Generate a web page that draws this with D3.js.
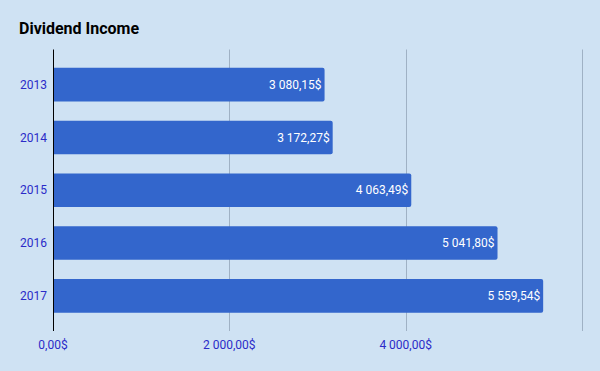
<!DOCTYPE html>
<html>
<head>
<meta charset="utf-8">
<script src="https://cdn.jsdelivr.net/npm/d3@7"></script>
<style>
  html, body { margin: 0; padding: 0; background: #cfe2f3; }
  svg { display: block; font-family: Roboto, "Noto Sans", sans-serif; }
</style>
</head>
<body>
<svg id="chart" width="600" height="371"></svg>
<script>
// chart data
const years = ["2013", "2014", "2015", "2016", "2017"];
const income = [3080.15, 3172.27, 4063.49, 5041.80, 5559.54];
const xTicks = [0, 2000, 4000, 6000];

const width = 600, height = 371;
const margin = { top: 49.5, right: 18, bottom: 40, left: 53 };

const svg = d3.select("#chart");

svg.append("rect")
  .attr("width", width)
  .attr("height", height)
  .attr("fill", "#cfe2f3");

// format like "3 080,15$"
function fmt(v) {
  const parts = v.toFixed(2).split(".");
  const intPart = parts[0].replace(/\B(?=(\d{3})+(?!\d))/g, " ");
  return intPart + "," + parts[1] + "$";
}

const x = d3.scaleLinear()
  .domain([0, 6000])
  .range([margin.left, width - margin.right]);

const y = d3.scaleBand()
  .domain(years)
  .range([margin.top, height - margin.bottom])
  .paddingInner(0.364)
  .paddingOuter(0.347);

// gridlines
svg.append("g")
  .selectAll("line")
  .data(xTicks.filter(d => d > 0))
  .enter()
  .append("line")
  .attr("x1", d => Math.round(x(d)) + 0.5)
  .attr("x2", d => Math.round(x(d)) + 0.5)
  .attr("y1", margin.top)
  .attr("y2", height - margin.bottom)
  .attr("stroke", "#9fb1c4")
  .attr("stroke-width", 1);

// bars (rounded right corners)
function barPath(d, i) {
  const x0 = x(0), x1 = x(d), y0 = y(years[i]), h = y.bandwidth(), r = 2;
  return `M${x0},${y0}H${x1 - r}Q${x1},${y0} ${x1},${y0 + r}` +
    `V${y0 + h - r}Q${x1},${y0 + h} ${x1 - r},${y0 + h}H${x0}Z`;
}

svg.append("g")
  .selectAll("path")
  .data(income)
  .enter()
  .append("path")
  .attr("d", barPath)
  .attr("fill", "#3366cc");

// value labels
svg.append("g")
  .selectAll("text")
  .data(income)
  .enter()
  .append("text")
  .attr("x", d => x(d) - 3)
  .attr("y", (d, i) => y(years[i]) + y.bandwidth() / 2)
  .attr("dy", "0.35em")
  .attr("text-anchor", "end")
  .attr("font-size", 12)
  .attr("fill", "#ffffff")
  .text(d => fmt(d));

// zero axis line
svg.append("line")
  .attr("x1", Math.round(x(0)) + 0.5)
  .attr("x2", Math.round(x(0)) + 0.5)
  .attr("y1", margin.top)
  .attr("y2", height - margin.bottom)
  .attr("stroke", "#000000")
  .attr("stroke-width", 1);

// year labels
svg.append("g")
  .selectAll("text")
  .data(years)
  .enter()
  .append("text")
  .attr("x", margin.left - 6)
  .attr("y", d => y(d) + y.bandwidth() / 2)
  .attr("dy", "0.35em")
  .attr("text-anchor", "end")
  .attr("font-size", 12)
  .attr("fill", "#2b2bc8")
  .text(d => d);

// x tick labels
svg.append("g")
  .selectAll("text")
  .data(xTicks.filter(d => d < 6000))
  .enter()
  .append("text")
  .attr("x", d => x(d))
  .attr("y", 349)
  .attr("text-anchor", "middle")
  .attr("font-size", 12)
  .attr("fill", "#2b2bc8")
  .text(d => fmt(d));

// title
svg.append("text")
  .attr("x", 19)
  .attr("y", 34)
  .attr("font-size", 16)
  .attr("font-weight", "bold")
  .attr("fill", "#000000")
  .text("Dividend Income");
</script>
</body>
</html>
